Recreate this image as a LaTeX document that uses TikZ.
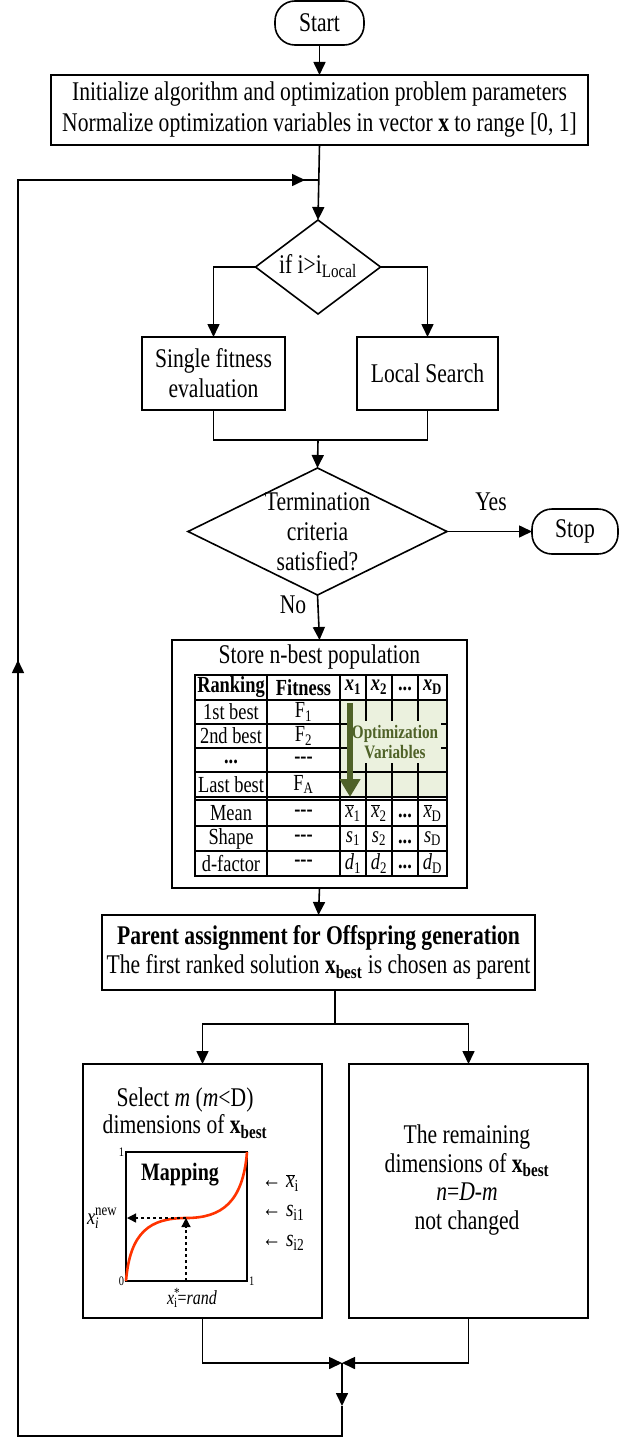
\documentclass[tikz,border=0pt]{standalone}
\usepackage{fontspec}
\setmainfont{Liberation Serif}[FakeStretch=0.8]
\usetikzlibrary{arrows.meta,shapes.geometric}
\definecolor{lgreen}{RGB}{235,241,222}
\definecolor{dgreen}{RGB}{79,98,40}
\definecolor{curvered}{RGB}{255,51,0}
\newcommand{\xb}{\textbf{x}\textsubscript{\textbf{best}}}
\newcommand{\dash}{\textbf{-{}-{}-}}
\newcommand{\xbar}{$\overline{\mbox{\textit{x}}}$}
\begin{document}
\begin{tikzpicture}[x=1pt,y=-1pt,
  every node/.style={inner sep=0pt, outer sep=0pt},
  line/.style={line width=1.6pt},
  arr/.style={line width=1.6pt, -{Triangle[length=13pt,width=12pt]}},
  txt/.style={font=\fontsize{27}{30}\selectfont, align=center},
  stepbox/.style={draw, line width=1.6pt, rectangle},
  term/.style={draw, line width=1.6pt, rectangle, rounded corners=20pt},
  decision/.style={draw, line width=1.6pt, diamond},
  tb/.style={font=\fontsize{23}{24}\selectfont, align=center},
  small/.style={font=\fontsize{13}{13}\selectfont},
]
\useasboundingbox (0,0) rectangle (639,1437);

% ---------- top part
\node[term, minimum width=89pt, minimum height=44pt, txt] (start) at (319.5,23) {Start};
\node[stepbox, minimum width=537pt, minimum height=70pt, txt, font=\fontsize{27}{31}\selectfont] (init) at (319.5,110)
  {Initialize algorithm and optimization problem parameters\\Normalize optimization variables in vector \textbf{x} to range [0, 1]};
\coordinate (loopin) at (318,180);
\node[decision, minimum width=125pt, minimum height=94pt] (d1) at (318,267) {};
\node[txt] (d1t) at (318,266) {if i>i\textsubscript{Local}};
\node[stepbox, minimum width=143pt, minimum height=73pt, txt] (sf) at (213.5,373.5) {Single fitness\\evaluation};
\node[stepbox, minimum width=141pt, minimum height=73pt, txt] (ls) at (427.5,373.5) {Local Search};
\coordinate (j1) at (318,440);
\node[decision, minimum width=259pt, minimum height=127pt] (d2) at (317.5,531.5) {};
\node[txt] (d2t) at (317.5,532) {Termination\\criteria\\satisfied?};
\node[term, minimum width=86pt, minimum height=45pt, txt] (stop) at (575,531.5) {Stop};
\node[txt] (yes) at (491,502) {Yes};
\node[txt] (no) at (293,605) {No};

\draw[arr] (start) -- (init);
\draw[arr] (init.south) -- (d1.north);
\draw[arr] (d1.west) -| (sf.north);
\draw[arr] (d1.east) -| (ls.north);
\draw[line] (sf.south) |- (j1) -| (ls.south);
\draw[arr] (j1) -- (d2.north);
\draw[arr] (d2.east) -- (stop.west);

% ---------- store box with table
\node[stepbox, minimum width=295pt, minimum height=248pt] (store) at (319.5,764) {};
\node[txt] (storet) at (319.5,657) {Store n-best population};
\draw[arr] (d2.south) -- (store.north);

\fill[lgreen] (340,700) rectangle (447,797);
\foreach \yy in {700,724,748,772,797,800,826,851}
  \draw[line width=1.3pt] (195,\yy) -- (447,\yy);
\foreach \xx in {267,340,366,392,418}
  \draw[line width=1.3pt] (\xx,675) -- (\xx,876);
\draw[line width=2pt] (195,675) rectangle (447,876);

\node[tb] (h1) at (231,687.5) {\textbf{Ranking}};
\node[tb] (h2) at (303.5,687.5) {\textbf{Fitness}};
\node[tb] (h3) at (353,687.5) {\textbf{\textit{x}}\textsubscript{\textbf{1}}};
\node[tb] (h4) at (379,687.5) {\textbf{\textit{x}}\textsubscript{\textbf{2}}};
\node[tb] (h5) at (405,689) {\textbf{...}};
\node[tb] (h6) at (432.5,687.5) {\textbf{\textit{x}}\textsubscript{\textbf{D}}};
\node[tb] (r1a) at (231,712) {1st best};
\node[tb] (r1b) at (303.5,712) {F\textsubscript{1}};
\node[tb] (r2a) at (231,736) {2nd best};
\node[tb] (r2b) at (303.5,736) {F\textsubscript{2}};
\node[tb] (r3a) at (231,762) {\textbf{...}};
\node[tb] (r3b) at (303.5,760) {\dash};
\node[tb] (r4a) at (231,784.5) {Last best};
\node[tb] (r4b) at (303.5,784.5) {F\textsubscript{A}};
\node[tb] (r5a) at (231,813) {Mean};
\node[tb] (r5b) at (303.5,813) {\dash};
\node[tb] (r5c) at (353,813) {\xbar\textsubscript{1}};
\node[tb] (r5d) at (379,813) {\xbar\textsubscript{2}};
\node[tb] (r5e) at (405,816) {\textbf{...}};
\node[tb] (r5f) at (432.5,813) {\xbar\textsubscript{D}};
\node[tb] (r6a) at (231,838.5) {Shape};
\node[tb] (r6b) at (303.5,838.5) {\dash};
\node[tb] (r6c) at (353,838.5) {\textit{s}\textsubscript{1}};
\node[tb] (r6d) at (379,838.5) {\textit{s}\textsubscript{2}};
\node[tb] (r6e) at (405,841.5) {\textbf{...}};
\node[tb] (r6f) at (432.5,838.5) {\textit{s}\textsubscript{D}};
\node[tb] (r7a) at (231,863.5) {d-factor};
\node[tb] (r7b) at (303.5,863.5) {\dash};
\node[tb] (r7c) at (353,863.5) {\textit{d}\textsubscript{1}};
\node[tb] (r7d) at (379,863.5) {\textit{d}\textsubscript{2}};
\node[tb] (r7e) at (405,866.5) {\textbf{...}};
\node[tb] (r7f) at (432.5,863.5) {\textit{d}\textsubscript{D}};

\node[font=\bfseries\fontsize{19}{20}\selectfont, text=dgreen, fill=lgreen, align=center, inner xsep=3pt, inner ysep=4pt] (optv) at (395,742) {Optimization\\Variables};
\coordinate (ga) at (350,703);
\coordinate (gb) at (350,797);
\draw[dgreen, line width=6pt, -{Triangle[length=18pt,width=20pt]}] (ga) -- (gb);

% ---------- parent box
\node[stepbox, minimum width=433pt, minimum height=75pt, txt, font=\fontsize{27}{29}\selectfont] (parent) at (318.5,952.5)
  {\textbf{Parent assignment for Offspring generation}\\The first ranked solution \xb{} is chosen as parent};
\draw[arr] (store.south) -- (parent.north);

\coordinate (split) at (335,1024);
\node[stepbox, minimum width=239pt, minimum height=254pt] (lbox) at (202.5,1191) {};
\node[stepbox, minimum width=239pt, minimum height=254pt] (rbox) at (468.5,1191) {};
\draw[line] (split |- parent.south) -- (split);
\draw[arr] (split) -| (lbox.north);
\draw[arr] (split) -| (rbox.north);

% left box content
\node[txt, font=\fontsize{27}{27}\selectfont] (seltxt) at (185,1113) {Select \textit{m} (\textit{m}<D)\\dimensions of \xb};
\node[draw, line width=2pt, minimum width=121pt, minimum height=129pt] (plot) at (186.5,1216.5) {};
\node[small, anchor=east] (one1) at (124,1152) {1};
\node[small, anchor=east] (zero) at (124,1281) {0};
\node[small, anchor=west] (one2) at (249,1281) {1};
\node[font=\bfseries\fontsize{25}{25}\selectfont] (maptxt) at (180,1175) {Mapping};
\draw[curvered, line width=2.6pt] (plot.south west) .. controls (130,1232) and (150,1218) .. (186,1218)
  .. controls (222,1218) and (243,1202) .. (plot.north east);
\coordinate (mid) at (186,1218);
\coordinate (midb) at (186,1281);
\coordinate (midl) at (127,1218);
\draw[dashed, line width=1.3pt, -{Triangle[length=9pt,width=9pt]}] (midb) -- (mid);
\draw[dashed, line width=1.3pt, -{Triangle[length=9pt,width=9pt]}] (mid) -- (midl);
\node[font=\fontsize{23}{23}\selectfont, anchor=west] (xnew) at (87,1218) {\textit{x}\rlap{\textsuperscript{new}}\textsubscript{\textit{i}}};
\node[font=\fontsize{20}{20}\selectfont] (xstar) at (192,1298) {\textit{x}\rlap{\textsuperscript{*}}\textsubscript{i}=\textit{rand}};
\node[font=\fontsize{24}{24}\selectfont, anchor=west] (lab1) at (262,1183) {← \xbar\textsubscript{i}};
\node[font=\fontsize{24}{24}\selectfont, anchor=west] (lab2) at (262,1213) {← \textit{s}\textsubscript{i1}};
\node[font=\fontsize{24}{24}\selectfont, anchor=west] (lab3) at (262,1243) {← \textit{s}\textsubscript{i2}};

% right box content
\node[txt, font=\fontsize{27}{28.5}\selectfont] (remtxt) at (467,1180)
  {The remaining\\dimensions of \xb\\\textit{n}=\textit{D}-\textit{m}\\not changed};

% ---------- merge and loop back
\coordinate (merge) at (342,1363);
\coordinate (dn) at (342,1406);
\coordinate (bot) at (342,1436);
\coordinate (botleft) at (18,1436);
\coordinate (upmark) at (18,660);
\coordinate (topleft) at (18,180);
\coordinate (rmark) at (305,180);
\draw[arr] (lbox.south) |- (merge);
\draw[arr] (rbox.south) |- (merge);
\draw[arr] (merge) -- (dn);
\draw[line] (dn) -- (bot) -- (botleft) -- (topleft) -- (loopin);
\draw[arr] (botleft) -- (upmark);
\draw[arr] (topleft) -- (rmark);
\end{tikzpicture}
\end{document}
